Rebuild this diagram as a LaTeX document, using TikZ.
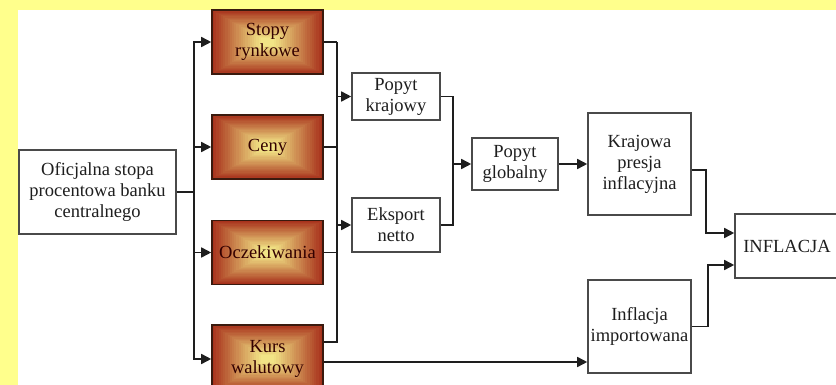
\documentclass[tikz,border=0pt]{standalone}
\usepackage{fontspec}
\setmainfont{Liberation Serif}
\usetikzlibrary{positioning, arrows.meta, calc}
\definecolor{paper}{HTML}{FFFF8C}
\definecolor{ink}{HTML}{1E1E1E}
\definecolor{frame}{HTML}{4A4A4A}
\definecolor{glowin}{HTML}{F2E486}
\definecolor{glowout}{HTML}{A8321C}
\definecolor{rim}{HTML}{3A1A0E}
\tikzset{
  plainbox/.style={draw=frame, fill=white, line width=1.6pt, align=center,
                   inner sep=0pt, text=ink, font=\fontsize{18.5}{21}\selectfont},
  glowbox/.style={draw=rim, line width=1.6pt, fill=glowout, align=center, inner sep=0pt,
                  minimum width=111pt, minimum height=64pt, text=black!80!red,
                  font=\fontsize{18.5}{21}\selectfont,
                  path picture={
                    \foreach \i [evaluate=\i as \p using {min(100,4.6*\i)},
                                 evaluate=\i as \f using {\i/25}] in {0,...,24}
                      \fill[glowin!\p!glowout]
                        ($(path picture bounding box.south west)!\f!(path picture bounding box.center)$)
                        rectangle
                        ($(path picture bounding box.north east)!\f!(path picture bounding box.center)$);
                  }},
  link/.style={draw=ink, line width=1.6pt},
  arr/.style={-{Triangle[length=10pt, width=10pt]}, draw=ink, line width=1.6pt},
}
\begin{document}
\begin{tikzpicture}[x=1pt, y=-1pt]
  \useasboundingbox (0,0) rectangle (836,385);
  \fill[paper] (0,0) rectangle (836,385);
  \fill[white] (18,10) rectangle (836,385);
  % source
  \node[plainbox, minimum width=157pt, minimum height=84pt] (ofic) at (97.5,192)
    {Oficjalna stopa\\procentowa banku\\centralnego};
  % channels
  \node[glowbox] (stopy) at (267.5,42) {Stopy\\rynkowe};
  \node[glowbox] (ceny) at (267.5,147) {Ceny};
  \node[glowbox] (oczek) at (267.5,252.5) {Oczekiwania};
  \node[glowbox, minimum height=68pt] (kurs) at (267.5,359) {Kurs\\walutowy};
  % demand
  \node[plainbox, minimum width=88pt, minimum height=47pt] (krajowy) at (396,96.5)
    {Popyt\\krajowy};
  \node[plainbox, minimum width=88pt, minimum height=54pt] (eksport) at (396,225)
    {Eksport\\netto};
  \node[plainbox, minimum width=86pt, minimum height=52pt] (globalny) at (515,164)
    {Popyt\\globalny};
  \node[plainbox, minimum width=103pt, minimum height=102pt] (presja) at (639.5,164)
    {Krajowa\\presja\\inflacyjna};
  \node[plainbox, minimum width=103pt, minimum height=93pt] (importowana) at (639.5,326.5)
    {Inflacja\\importowana};
  \node[plainbox, minimum width=104pt, minimum height=64pt] (inflacja) at (787,246)
    {INFLACJA};

  % fan out from the policy rate
  \coordinate (ja) at ($(ofic.east)+(17,0)$);
  \draw[link] (ofic.east) -- (ja);
  \draw[arr] (ja) |- (stopy.west);
  \draw[arr] (ja) |- (ceny.west);
  \draw[arr] (ja) |- (oczek.west);
  \draw[arr] (ja) |- (kurs.west);
  % channels into demand
  \coordinate (jb) at ($(stopy.east)+(13,0)$);
  \draw[link] (stopy.east) -- (jb);
  \draw[link] (ceny.east) -- (ceny.east -| jb);
  \draw[link] (oczek.east) -- (oczek.east -| jb);
  \draw[link] ([yshift=17pt]kurs.east) -| (jb);
  \draw[arr] (jb |- krajowy.west) -- (krajowy.west);
  \draw[arr] (jb |- eksport.west) -- (eksport.west);
  % demand into global demand
  \coordinate (jc) at ($(krajowy.east)+(12,0)$);
  \draw[link] (krajowy.east) -- (jc) |- (eksport.east);
  \draw[arr] (jc |- globalny.west) -- (globalny.west);
  \draw[arr] (globalny) -- (presja);
  % exchange rate into imported inflation
  \draw[arr] ([yshift=-3pt]kurs.east) -- ([yshift=-3pt]kurs.east -| importowana.west);
  % into inflation
  \draw[arr] ([yshift=-6pt]presja.east) -- ++(14,0) |- ([yshift=13pt]inflacja.west);
  \draw[arr] (importowana.east) -- ++(16,0) |- ([yshift=-19pt]inflacja.west);
\end{tikzpicture}
\end{document}
